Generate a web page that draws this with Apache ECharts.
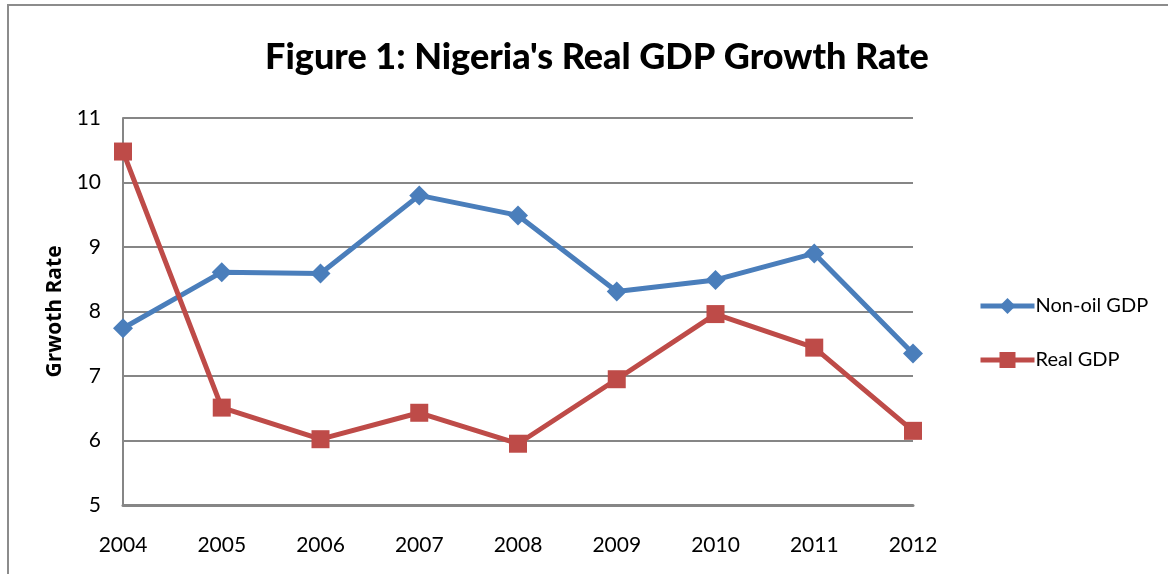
<!DOCTYPE html>
<html>
<head>
<meta charset="utf-8">
<script src="https://cdn.jsdelivr.net/npm/echarts@6/dist/echarts.min.js"></script>
<style>
  html, body { margin: 0; padding: 0; background: #fff; }
  #chart { width: 1168px; height: 574px; }
</style>
</head>
<body>
<div id="chart"></div>
<script>
'use strict'

const years = ['2004', '2005', '2006', '2007', '2008', '2009', '2010', '2011', '2012']
const nonOilGdp = [7.74, 8.61, 8.59, 9.80, 9.49, 8.31, 8.49, 8.90, 7.35]
const realGdp = [10.48, 6.51, 6.02, 6.43, 5.95, 6.95, 7.96, 7.44, 6.15]

const FONT = 'Lato, "Open Sans", sans-serif'
const BLUE = '#4a7ebb'
const RED = '#be4b48'
const GRID_GRAY = '#868686'

const chart = echarts.init(document.getElementById('chart'))

const option = {
  animation: false,
  backgroundColor: '#fff',
  textStyle: { fontFamily: FONT },
  title: {
    text: "Figure 1: Nigeria's Real GDP Growth Rate",
    left: 592,
    textAlign: 'center',
    top: 34,
    textStyle: { fontFamily: FONT, fontSize: 36, fontWeight: 900, color: '#000' }
  },
  graphic: [{
    type: 'rect',
    shape: { x: 8, y: 5, width: 1200, height: 600 },
    style: { fill: 'none', stroke: '#8c8c8c', lineWidth: 2 },
    silent: true
  }],
  grid: { left: 123, right: 255, top: 118, bottom: 69 },
  legend: {
    orient: 'vertical',
    left: 973,
    top: 291,
    itemWidth: 54,
    itemHeight: 20,
    itemGap: 34,
    lineStyle: { width: 5 },
    textStyle: { fontFamily: FONT, fontSize: 20, color: '#000', padding: [0, 0, 0, -4] },
    data: ['Non-oil GDP', 'Real GDP']
  },
  xAxis: {
    type: 'category',
    data: years,
    boundaryGap: false,
    axisLine: { show: true, lineStyle: { color: GRID_GRAY, width: 3 } },
    axisTick: { show: false },
    axisLabel: { color: '#000', fontSize: 21, margin: 30 },
    splitLine: { show: false }
  },
  yAxis: {
    type: 'value',
    min: 5,
    max: 11,
    interval: 1,
    name: 'Grwoth Rate',
    nameLocation: 'middle',
    nameGap: 56,
    nameTextStyle: { fontFamily: '"Open Sans", Lato, sans-serif', fontSize: 21, fontWeight: 'bold', color: '#000' },
    axisLine: { show: true, lineStyle: { color: GRID_GRAY, width: 2 } },
    axisTick: { show: false },
    axisLabel: { color: '#000', fontSize: 21, margin: 22 },
    splitLine: { show: true, lineStyle: { color: GRID_GRAY, width: 2 } }
  },
  series: [
    {
      name: 'Non-oil GDP',
      type: 'line',
      data: nonOilGdp,
      symbol: 'diamond',
      symbolSize: 20,
      itemStyle: { color: BLUE },
      lineStyle: { color: BLUE, width: 5 },
      z: 3
    },
    {
      name: 'Real GDP',
      type: 'line',
      data: realGdp,
      symbol: 'rect',
      symbolSize: 18,
      itemStyle: { color: RED },
      lineStyle: { color: RED, width: 5 },
      z: 4
    }
  ]
}

chart.setOption(option)
</script>
</body>
</html>
